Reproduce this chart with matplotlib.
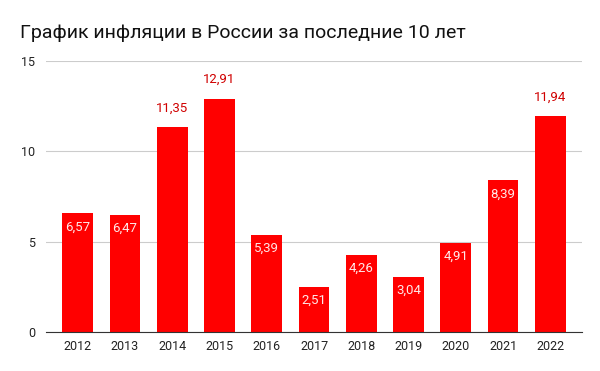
import matplotlib
matplotlib.use("Agg")
import matplotlib.pyplot as plt

years = ["2012", "2013", "2014", "2015", "2016", "2017", "2018", "2019", "2020", "2021", "2022"]
inflation = [6.57, 6.47, 11.35, 12.91, 5.39, 2.51, 4.26, 3.04, 4.91, 8.39, 11.94]
outside = ["2014", "2015", "2022"]
title = "График инфляции в России за последние 10 лет"

plt.rcParams['font.family'] = ['Roboto', 'DejaVu Sans']

fig = plt.figure(figsize=(6, 3.71), dpi=100)
ax = fig.add_axes([0.0767, 0.105, 0.8933, 0.7306])

x = list(range(len(years)))
ax.bar(x, inflation, width=0.65, color='#ff0000', zorder=2)

for xi, yr, v in zip(x, years, inflation):
    lbl = f"{v:.2f}".replace('.', ',')
    if yr in outside:
        ax.annotate(lbl, (xi, v), xytext=(0, 9), textcoords='offset points',
                    ha='center', va='bottom', color='#d00000', fontsize=9.5)
    else:
        ax.annotate(lbl, (xi, v), xytext=(0, -5), textcoords='offset points',
                    ha='center', va='top', color='#ffe8e8', fontsize=9.5)

ax.set_xlim(-0.67, 10.67)
ax.set_ylim(0, 15)
ax.set_yticks([0, 5, 10, 15])
ax.set_xticks(x)
ax.set_xticklabels(years)
ax.grid(axis='y', color='#cccccc', linewidth=0.8, zorder=0)
ax.set_axisbelow(True)
for s in ['top', 'right', 'left']:
    ax.spines[s].set_visible(False)
ax.spines['bottom'].set_color('#333333')
ax.tick_params(axis='both', length=0, labelsize=9, colors='#222222')
ax.tick_params(axis='y', pad=8)
ax.tick_params(axis='x', pad=6)

fig.text(0.033, 0.91, title, fontsize=14, color='#111111', ha='left', va='center')

fig.savefig("out.png", dpi=100)
